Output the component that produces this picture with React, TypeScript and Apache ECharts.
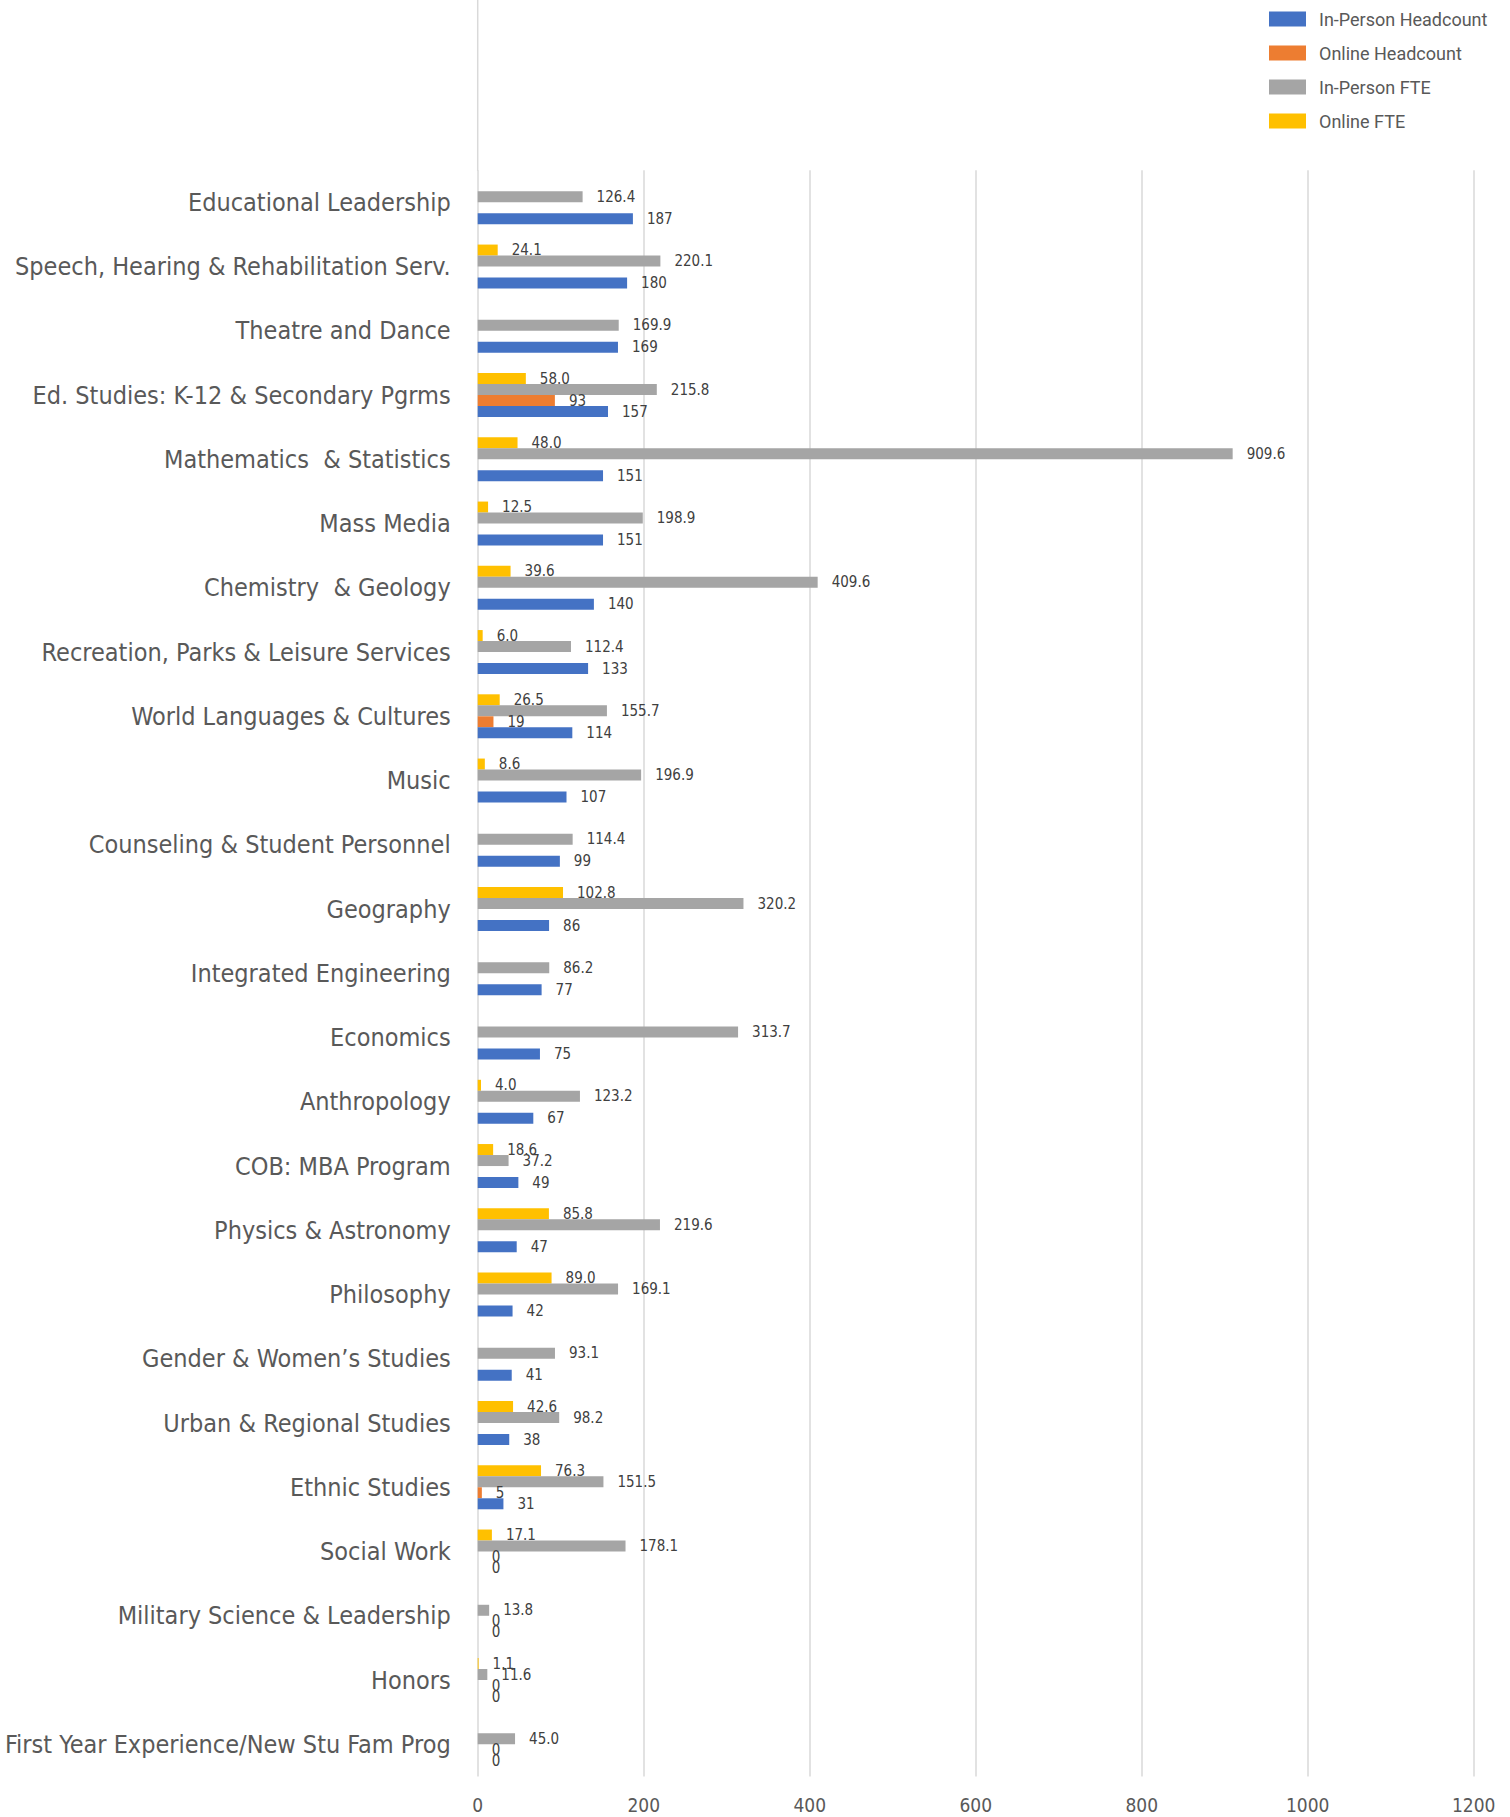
import React, { useEffect, useRef } from 'react';
import * as echarts from 'echarts';

const categories = [
  'Educational Leadership',
  'Speech, Hearing & Rehabilitation Serv.',
  'Theatre and Dance',
  'Ed. Studies: K-12 & Secondary Pgrms',
  'Mathematics  & Statistics',
  'Mass Media',
  'Chemistry  & Geology',
  'Recreation, Parks & Leisure Services',
  'World Languages & Cultures',
  'Music',
  'Counseling & Student Personnel',
  'Geography',
  'Integrated Engineering',
  'Economics',
  'Anthropology',
  'COB: MBA Program',
  'Physics & Astronomy',
  'Philosophy',
  'Gender & Women\u2019s Studies',
  'Urban & Regional Studies',
  'Ethnic Studies',
  'Social Work',
  'Military Science & Leadership',
  'Honors',
  'First Year Experience/New Stu Fam Prog',
];

const inPersonHeadcount = [187, 180, 169, 157, 151, 151, 140, 133, 114, 107, 99, 86, 77, 75, 67, 49, 47, 42, 41, 38, 31, 0, 0, 0, 0];
const onlineHeadcount = [null, null, null, 93, null, null, null, null, 19, null, null, null, null, null, null, null, null, null, null, null, 5, 0, 0, 0, 0];
const inPersonFTE = [126.4, 220.1, 169.9, 215.8, 909.6, 198.9, 409.6, 112.4, 155.7, 196.9, 114.4, 320.2, 86.2, 313.7, 123.2, 37.2, 219.6, 169.1, 93.1, 98.2, 151.5, 178.1, 13.8, 11.6, 45.0];
const onlineFTE = [null, 24.1, null, 58.0, 48.0, 12.5, 39.6, 6.0, 26.5, 8.6, null, 102.8, null, null, 4.0, 18.6, 85.8, 89.0, null, 42.6, 76.3, 17.1, null, 1.1, null];

const seriesNames = ['In-Person Headcount', 'Online Headcount', 'In-Person FTE', 'Online FTE'];
const seriesColors = ['#4472C4', '#ED7D31', '#A5A5A5', '#FFC000'];

const NARROW = "'DejaVu Sans Condensed', 'Liberation Sans', sans-serif";

export default function App() {
  const ref = useRef<HTMLDivElement>(null);
  useEffect(() => {
    document.body.style.margin = '0';
    if (!ref.current) return;
    const chart = echarts.init(ref.current, undefined, { renderer: 'svg' });
    const mk = (name: string, data: (number | null)[], color: string, decimals: number) => ({
      name,
      type: 'bar',
      data,
      barGap: '0%',
      barCategoryGap: '31.5%',
      itemStyle: { color },
      label: {
        show: true,
        position: 'right',
        distance: 14,
        color: '#404040',
        textBorderWidth: 0,
        textBorderColor: 'transparent',
        fontFamily: NARROW,
        fontSize: 15,
        formatter: (p: any) => (p.value == null ? '' : Number(p.value).toFixed(decimals)),
      },
    });
    // order within band (top to bottom): Online FTE, In-Person FTE, Online HC, In-Person HC
    const series = [
      mk(seriesNames[3], onlineFTE, seriesColors[3], 1),
      mk(seriesNames[2], inPersonFTE, seriesColors[2], 1),
      mk(seriesNames[1], onlineHeadcount, seriesColors[1], 0),
      mk(seriesNames[0], inPersonHeadcount, seriesColors[0], 0),
    ];
    chart.setOption({
      animation: false,
      grid: {
        left: 477.7,
        right: 36.3,
        top: 170.2,
        bottom: 40.6,
        containLabel: false,
        outerBoundsMode: 'none',
      },
      legend: {
        data: seriesNames,
        orient: 'vertical',
        left: 1269,
        top: 10,
        padding: 0,
        itemWidth: 37,
        itemHeight: 15,
        itemGap: 16,
        icon: 'rect',
        textStyle: { fontFamily: 'Roboto', fontSize: 18, color: '#595959', padding: [0, 0, 0, 8] },
      },
      xAxis: {
        type: 'value',
        min: 0,
        max: 1200,
        interval: 200,
        axisLine: { show: false },
        axisTick: { show: false },
        splitLine: { show: true, lineStyle: { color: '#D9D9D9', width: 1.5 } },
        axisLabel: {
          color: '#595959',
          fontFamily: NARROW,
          fontSize: 19,
          margin: 19,
          formatter: (v: number) => String(v),
        },
      },
      yAxis: {
        type: 'category',
        data: categories,
        inverse: true,
        axisLine: { show: false },
        axisTick: { show: false },
        axisLabel: { color: '#595959', fontFamily: NARROW, fontSize: 25, margin: 27 },
      },
      graphic: [
        {
          type: 'line',
          shape: { x1: 477.7, y1: 0, x2: 477.7, y2: 171 },
          style: { stroke: '#D9D9D9', lineWidth: 1.5 },
        },
      ],
      series,
    });
    return () => chart.dispose();
  }, []);
  return <div ref={ref} style={{ width: 1510, height: 1817 }} />;
}
